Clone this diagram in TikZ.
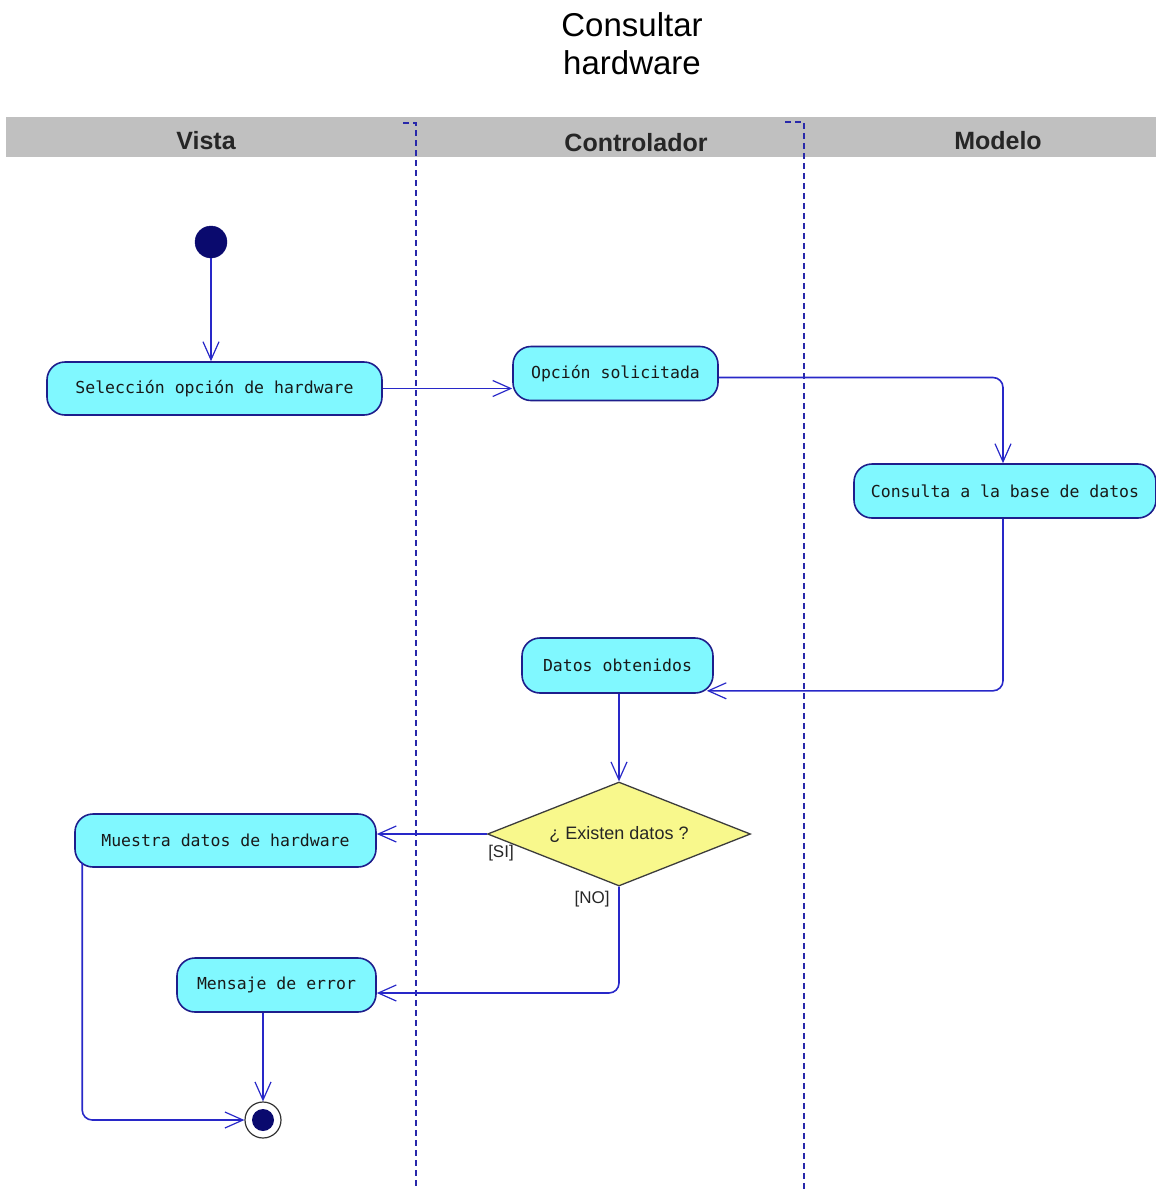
\documentclass[tikz,border=0pt]{standalone}
\usepackage{fontspec}
\setmainfont{Liberation Sans}
\newfontfamily\actfont{DejaVu Sans Mono}
\usetikzlibrary{shapes.geometric,arrows.meta,calc}

\definecolor{actfill}{RGB}{128,248,255}
\definecolor{nodeline}{RGB}{30,30,140}
\definecolor{flowline}{RGB}{40,40,200}
\definecolor{dotfill}{RGB}{10,10,110}
\definecolor{diafill}{RGB}{248,248,140}
\definecolor{dialine}{RGB}{60,60,60}
\definecolor{laneline}{RGB}{40,40,170}
\definecolor{headgray}{RGB}{192,192,192}

\tikzset{
  act/.style={draw=nodeline, line width=1.6pt, fill=actfill, rounded corners=18pt,
    inner sep=0pt, font=\actfont\fontsize{16.5}{18}\selectfont, text=black!90},
  flow/.style={draw=flowline, line width=1.6pt,
    -{Straight Barb[length=18pt,width=16pt,line width=1.2pt]}},
  lane/.style={draw=laneline, line width=1.4pt, dash pattern=on 6pt off 4pt},
  guard/.style={font=\fontsize{17}{19}\selectfont, text=black!85, inner sep=0pt},
  lanehead/.style={font=\bfseries\fontsize{25}{28}\selectfont, text=black!85, inner sep=0pt},
}

\begin{document}
\begin{tikzpicture}[x=1pt,y=-1pt]
  \useasboundingbox (0,0) rectangle (1156,1189);

  % title
  \node[font=\fontsize{33}{38}\selectfont, align=center] (title) at (632,44) {Consultar\\hardware};

  % swimlane header
  \fill[headgray] (6,117) rectangle (1156,157);
  \node[lanehead] (vista) at (206,141) {Vista};
  \node[lanehead] (ctrl) at (636,143) {Controlador};
  \node[lanehead] (modelo) at (998,141) {Modelo};

  % lane separators
  \coordinate (s1a) at (403,123);
  \coordinate (s1b) at (416,123);
  \coordinate (s1c) at (416,1189);
  \coordinate (s2a) at (785,122);
  \coordinate (s2b) at (804,122);
  \coordinate (s2c) at (804,1189);
  \draw[lane] (s1a) -- (s1b) -- (s1c);
  \draw[lane] (s2a) -- (s2b) -- (s2c);

  % start and final states
  \node[circle, fill=dotfill, draw=dotfill, minimum size=32pt, inner sep=0pt] (ini) at (211,242) {};
  \node[circle, draw=black!80, line width=1.2pt, fill=white, minimum size=36pt, inner sep=0pt] (fin) at (263,1120) {};
  \node[circle, fill=dotfill, minimum size=22pt, inner sep=0pt] (finc) at (fin) {};

  % activities
  \node[act, minimum width=335pt, minimum height=53pt] (sel) at (214.5,388.5) {Selección opción de hardware};
  \node[act, minimum width=205pt, minimum height=54pt] (opc) at (615.5,373.5) {Opción solicitada};
  \node[act, minimum width=302pt, minimum height=54pt] (con) at (1005,491) {Consulta a la base de datos};
  \node[act, minimum width=191pt, minimum height=55pt] (dat) at (617.5,665.5) {Datos obtenidos};
  \node[act, minimum width=301pt, minimum height=53pt] (mue) at (225.5,840.5) {Muestra datos de hardware};
  \node[act, minimum width=199pt, minimum height=54pt] (men) at (276.5,985) {Mensaje de error};

  % decision
  \node[diamond, aspect=2.53, draw=dialine, fill=diafill, line width=1.3pt, minimum width=263pt,
        minimum height=104pt, inner sep=0pt, font=\fontsize{18}{20}\selectfont, text=black!85]
        (dia) at (619,834) {¿ Existen datos ?};

  \node[guard] (si) at (501,853) {[SI]};
  \node[guard] (no) at (592,899) {[NO]};

  % helper points on node borders
  \coordinate (opcout) at ($(opc.east)+(0,4)$);
  \coordinate (conin) at ($(con.north)+(-2,0)$);
  \coordinate (conout) at ($(con.south)+(-2,0)$);
  \coordinate (datin) at ($(dat.south east)+(-7,-3)$);
  \coordinate (erin) at ($(men.east)+(0,8)$);
  \coordinate (mueout) at ($(mue.south west)+(8,-5)$);

  % transitions
  \draw[flow] (ini.south) -- (ini |- sel.north);
  \draw[flow] (sel.east) -- (sel.east -| opc.west);
  \draw[flow, rounded corners=10pt] (opcout) -| (conin);
  \draw[flow, rounded corners=10pt] (conout) |- (datin);
  \draw[flow] (dia.north |- dat.south) -- (dia.north);
  \draw[flow] (dia.west) -- (dia.west -| mue.east);
  \draw[flow, rounded corners=10pt] (dia.south) |- (erin);
  \draw[flow] (fin.north |- men.south) -- (fin.north);
  \draw[flow, rounded corners=10pt] (mueout) |- (fin.west);
\end{tikzpicture}
\end{document}
